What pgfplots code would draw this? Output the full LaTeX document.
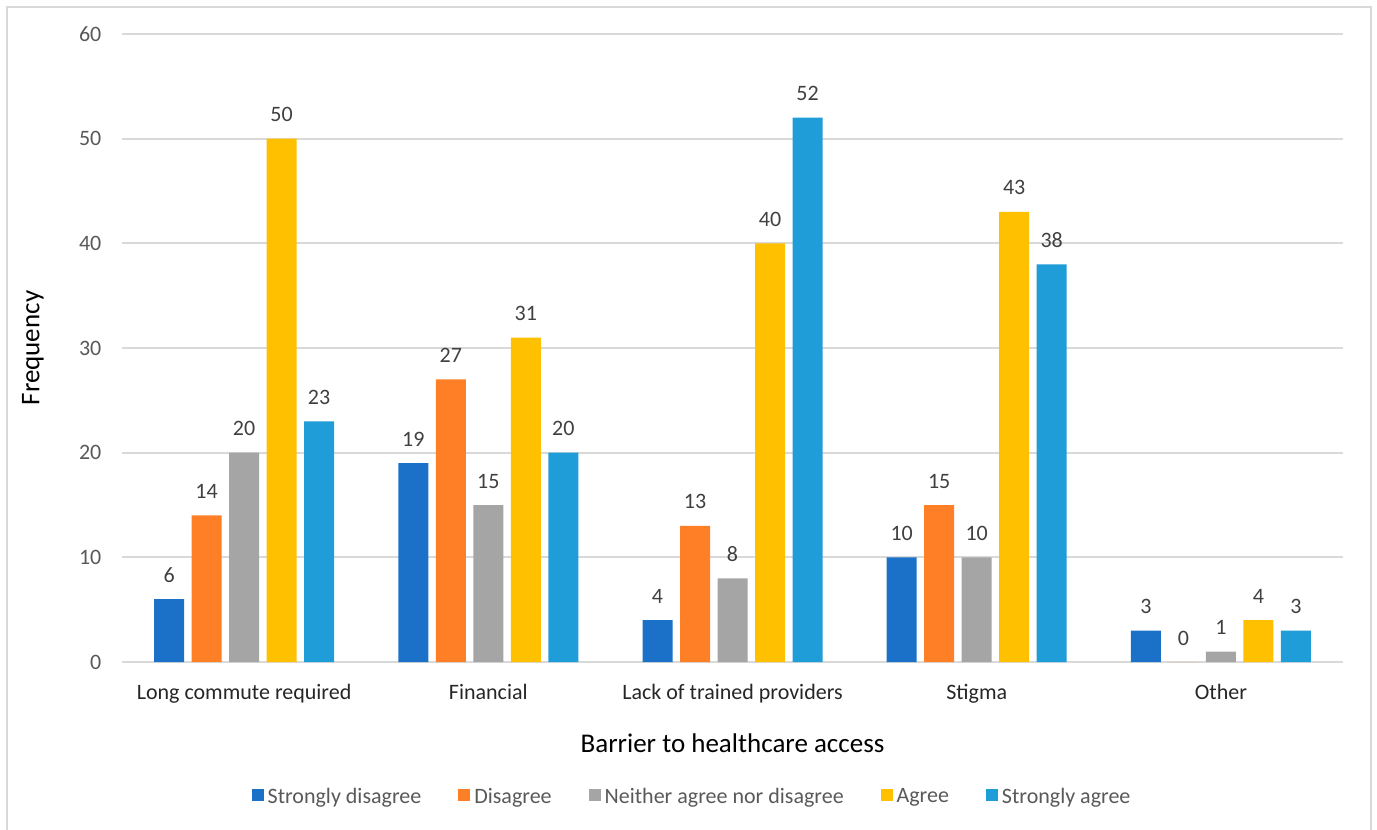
\documentclass[border=0pt]{standalone}
\usepackage{pgfplots}
\pgfplotsset{compat=1.18}
\usepackage{fontspec}
\setmainfont{Carlito}

\definecolor{sdis}{HTML}{1A71C7}
\definecolor{dis}{HTML}{FF7F27}
\definecolor{neut}{HTML}{A5A5A5}
\definecolor{agr}{HTML}{FFC000}
\definecolor{sagr}{HTML}{1F9DD9}
\definecolor{gridgray}{HTML}{D9D9D9}
\definecolor{tickgray}{HTML}{595959}
\definecolor{labelgray}{HTML}{404040}
\definecolor{catgray}{HTML}{262626}

\newcommand{\smallfont}{\fontsize{11bp}{13bp}\selectfont}
\newcommand{\titlefont}{\fontsize{13.5bp}{16bp}\selectfont}

\begin{document}
\begin{tikzpicture}
\useasboundingbox (-61bp,-84bp) rectangle (627.5bp,331bp);
% chart frame (open at the bottom edge of the page)
\draw[gridgray, line width=1bp] (-57.5bp,-90bp) -- (-57.5bp,327.5bp) -- (624.5bp,327.5bp) -- (624.5bp,-90bp);
\begin{axis}[
  at={(0,0)}, anchor=south west,
  scale only axis, width=610.5bp, height=314bp,
  ymin=0, ymax=60, ytick={0,10,...,60},
  xmin=-0.5, xmax=4.5, xtick={0,1,2,3,4},
  xticklabels={Long commute required, Financial, Lack of trained providers, Stigma, Other},
  ybar=3.75bp, bar width=15bp,
  axis x line*=bottom, axis y line*=left,
  y axis line style={draw=none},
  x axis line style={gridgray, line width=1bp, -},
  major tick length=0pt,
  ymajorgrids, grid style={gridgray, line width=1bp},
  /pgf/number format/assume math mode=true,
  yticklabel style={font=\smallfont, color=tickgray, xshift=-6.8bp},
  xticklabel style={font=\smallfont, color=catgray, anchor=base, yshift=-18.5bp},
  xlabel={Barrier to healthcare access},
  xlabel style={at={(axis description cs:0.5,-0.129)}, anchor=center, font=\titlefont, color=black},
  ylabel={Frequency},
  ylabel style={at={(axis description cs:-0.0729,0.5)}, anchor=center, font=\titlefont, color=black},
  nodes near coords,
  every node near coord/.append style={font=\smallfont, color=labelgray, anchor=base, yshift=8.5bp},
  legend columns=5,
  legend style={draw=none, fill=none, at={(0.4677,-0.215)}, anchor=center,
    font=\smallfont, text=tickgray,
    /tikz/every even column/.append style={column sep=16.5bp}},
  legend image code/.code={\fill[#1] (0bp,-2bp) rectangle (6bp,4bp);},
]
\addplot[fill=sdis, draw=none] coordinates {(0,6) (1,19) (2,4) (3,10) (4,3)};
\addplot[fill=dis, draw=none] coordinates {(0,14) (1,27) (2,13) (3,15) (4,0)};
\addplot[fill=neut, draw=none] coordinates {(0,20) (1,15) (2,8) (3,10) (4,1)};
\addplot[fill=agr, draw=none] coordinates {(0,50) (1,31) (2,40) (3,43) (4,4)};
\addplot[fill=sagr, draw=none] coordinates {(0,23) (1,20) (2,52) (3,38) (4,3)};
\legend{Strongly disagree, Disagree, Neither agree nor disagree, Agree, Strongly agree}
\end{axis}
\end{tikzpicture}
\end{document}
